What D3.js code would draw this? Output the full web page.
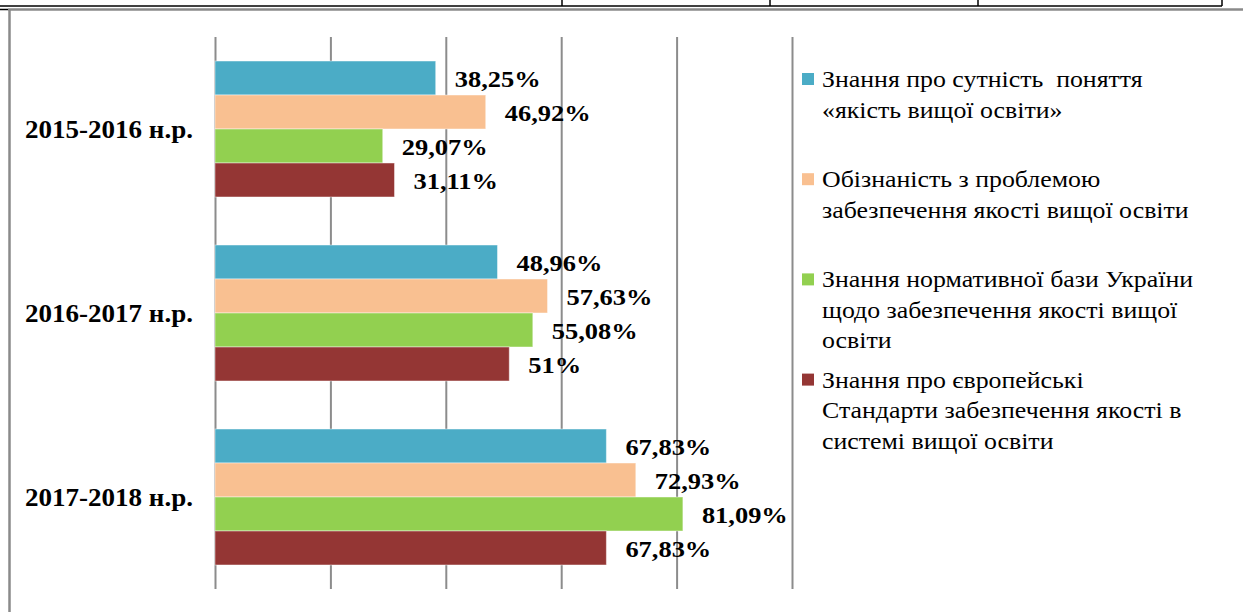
<!DOCTYPE html>
<html><head><meta charset="utf-8">
<script src="https://cdn.jsdelivr.net/npm/d3@7"></script>
<style>
html,body{margin:0;padding:0;background:#fff;}
svg{display:block;}
text{font-family:"Liberation Serif","Times New Roman",serif;}
</style></head>
<body><svg id="c" width="1243" height="612"></svg>
<script>
const categories = ["2015-2016 н.р.", "2016-2017 н.р.", "2017-2018 н.р."];
const seriesNames = [
  ["Знання про сутність  поняття", "«якість вищої освіти»"],
  ["Обізнаність з проблемою", "забезпечення якості вищої освіти"],
  ["Знання нормативної бази України", "щодо забезпечення якості вищої", "освіти"],
  ["Знання про європейські", "Стандарти забезпечення якості в", "системі вищої освіти"]
];
const s1 = [38.25, 48.96, 67.83];
const s2 = [46.92, 57.63, 72.93];
const s3 = [29.07, 55.08, 81.09];
const s4 = [31.11, 51, 67.83];
const seriesValues = [s1, s2, s3, s4];
const colors = ["#4BACC6", "#F9C091", "#92D050", "#943634"];
const xTicks = [0, 20, 40, 60, 80, 100];

const svg = d3.select("#c");
const SX = 1.13; // horizontal stretch of text

function stretchedText(g, x, y, str, sx) {
  return g.append("text").attr("font-family", "Liberation Serif, Times New Roman, serif")
    .attr("transform", `translate(${x},${y}) scale(${sx || SX},1)`).text(str);
}

// page decorations (table lines above and frame)
svg.append("line").attr("x1",0).attr("x2",1222).attr("y1",6).attr("y2",6).attr("stroke","#000").attr("stroke-width",1.5);
[562,770,978,1222].forEach(x=>svg.append("line").attr("x1",x).attr("x2",x).attr("y1",0).attr("y2",6).attr("stroke","#000").attr("stroke-width",1.5));
svg.append("line").attr("x1",0).attr("x2",8).attr("y1",9.5).attr("y2",9.5).attr("stroke","#000").attr("stroke-width",1.5);
svg.append("line").attr("x1",8).attr("x2",1243).attr("y1",9.5).attr("y2",9.5).attr("stroke","#8a8a8a").attr("stroke-width",2.5);
svg.append("line").attr("x1",9.5).attr("x2",9.5).attr("y1",9).attr("y2",612).attr("stroke","#8a8a8a").attr("stroke-width",2.5);

const x = d3.scaleLinear().domain([0,100]).range([215,792]);
const y = d3.scaleBand().domain(categories).range([37,589]).paddingInner(0.261).paddingOuter(0.1305);
const ys = d3.scaleBand().domain(d3.range(seriesValues.length)).range([0, y.bandwidth()]);

// gridlines
const grid = svg.append("g").attr("transform","translate(0,37)")
  .call(d3.axisTop(x).tickValues(xTicks).tickSize(-(589-37)).tickFormat(""));
grid.select(".domain").remove();
grid.selectAll(".tick line").attr("stroke","#8c8c8c").attr("stroke-width",2);

const fmt = v => (Number.isInteger(v) ? String(v) : v.toFixed(2).replace(".", ",")) + "%";

// bars
categories.forEach((cat, ci) => {
  const g = svg.append("g").attr("transform", `translate(0,${y(cat)})`);
  seriesValues.forEach((vals, si) => {
    g.append("rect")
      .attr("x", x(0)).attr("y", ys(si))
      .attr("width", x(vals[ci]) - x(0)).attr("height", ys.bandwidth())
      .attr("fill", colors[si])
      .attr("stroke", "rgba(255,255,255,0.45)").attr("stroke-width", 1);
  });
  seriesValues.forEach((vals, si) => {
    stretchedText(g, x(vals[ci]) + 19, ys(si) + ys.bandwidth()/2 + 9, fmt(vals[ci]), 1.15)
      .attr("font-size", 23).attr("font-weight","bold").attr("fill","#000");
  });
  // category label
  stretchedText(g, 193, y.bandwidth()/2 + 9, cat, 1.04)
    .attr("text-anchor","end").attr("font-size",26).attr("font-weight","bold");
});

// legend
const leg = svg.append("g");
seriesNames.forEach((lines, i) => {
  const by = 87 + i * 100.2;
  leg.append("rect").attr("x",802).attr("y",by-14).attr("width",12).attr("height",12).attr("fill",colors[i]);
  lines.forEach((ln, li) => {
    stretchedText(leg, 822, by + li*30.5, ln, 1.1).attr("font-size",23.5).attr("fill","#000").style("white-space","pre");
  });
});
</script></body></html>
